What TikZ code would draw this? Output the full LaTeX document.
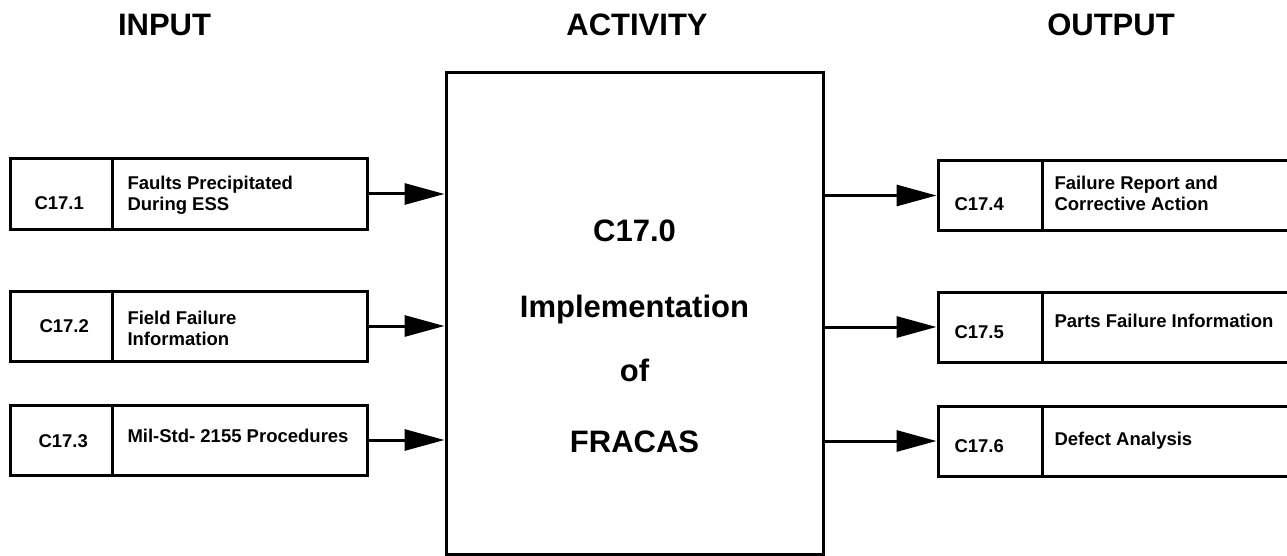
\documentclass[tikz,border=0pt]{standalone}
\usepackage{fontspec}
\setmainfont{Liberation Sans}
\usetikzlibrary{arrows.meta}
\begin{document}
\begin{tikzpicture}[x=1pt,y=-1pt,line width=3pt,
  hdr/.style={font=\fontsize{31}{31}\selectfont\bfseries,inner sep=0pt,anchor=base},
  lbl/.style={font=\fontsize{18.5}{21}\selectfont\bfseries,inner sep=0pt,anchor=base west,align=left},
  codebox/.style={draw,minimum height=70pt,inner sep=0pt},
  textbox/.style={draw,minimum height=70pt,inner sep=0pt},
  openbox/.style={inner sep=0pt,outer sep=0pt,minimum width=245pt,minimum height=70pt},
  flow/.style={-{Triangle[length=40pt,width=21pt]},line width=3pt}]
\useasboundingbox (0,0) rectangle (1287,556);
% headings
\node[hdr] (hin) at (164.5,36) {INPUT};
\node[hdr] (hact) at (637,36) {ACTIVITY};
\node[hdr] (hout) at (1111,36) {OUTPUT};
% activity box
\node[draw,minimum width=377pt,minimum height=481pt,inner sep=0pt] (act) at (634.5,313.5) {};
\node[hdr] (a1) at (634.5,241) {C17.0};
\node[hdr] (a2) at (634.5,317) {Implementation};
\node[hdr] (a3) at (634.5,381) {of};
\node[hdr] (a4) at (634.5,452) {FRACAS};
% input boxes
\node[codebox,minimum width=102pt] (c1) at (61,194) {};
\node[textbox,minimum width=255pt] (t1) at (239.5,194) {};
\node[codebox,minimum width=102pt] (c2) at (61,326) {};
\node[textbox,minimum width=255pt] (t2) at (239.5,326) {};
\node[codebox,minimum width=102pt] (c3) at (61,440) {};
\node[textbox,minimum width=255pt] (t3) at (239.5,440) {};
\node[lbl] (l1) at (33,210) {C17.1};
\node[lbl] (l2) at (38,332) {C17.2};
\node[lbl] (l3) at (37,447) {C17.3};
\node[lbl] (d1) at (126,211) {Faults Precipitated\\During ESS};
\node[lbl] (d2) at (126,345) {Field Failure\\Information};
\node[lbl] (d3) at (126,442) {Mil-Std- 2155 Procedures};
% output boxes
\node[codebox,minimum width=104pt] (c4) at (990,195.5) {};
\node[openbox] (t4) at (1164.5,195.5) {};
\node[codebox,minimum width=104pt] (c5) at (990,327) {};
\node[openbox] (t5) at (1164.5,327) {};
\node[codebox,minimum width=104pt] (c6) at (990,441) {};
\node[openbox] (t6) at (1164.5,441) {};
\foreach \t in {t4,t5,t6}{
  \draw (\t.north west) -- (\t.north east);
  \draw (\t.south west) -- (\t.south east);
}
\node[lbl] (l4) at (953,211) {C17.4};
\node[lbl] (l5) at (953,338) {C17.5};
\node[lbl] (l6) at (953,452) {C17.6};
\node[lbl] (d4) at (1053,211) {Failure Report and\\Corrective Action};
\node[lbl] (d5) at (1053,327) {Parts Failure Information};
\node[lbl] (d6) at (1053,445) {Defect Analysis};
% connectors
\draw[flow] (t1.east) -- (t1.east -| act.west);
\draw[flow] (t2.east) -- (t2.east -| act.west);
\draw[flow] (t3.east) -- (t3.east -| act.west);
\draw[flow] (c4.west -| act.east) -- (c4.west);
\draw[flow] (c5.west -| act.east) -- (c5.west);
\draw[flow] (c6.west -| act.east) -- (c6.west);
\end{tikzpicture}
\end{document}
